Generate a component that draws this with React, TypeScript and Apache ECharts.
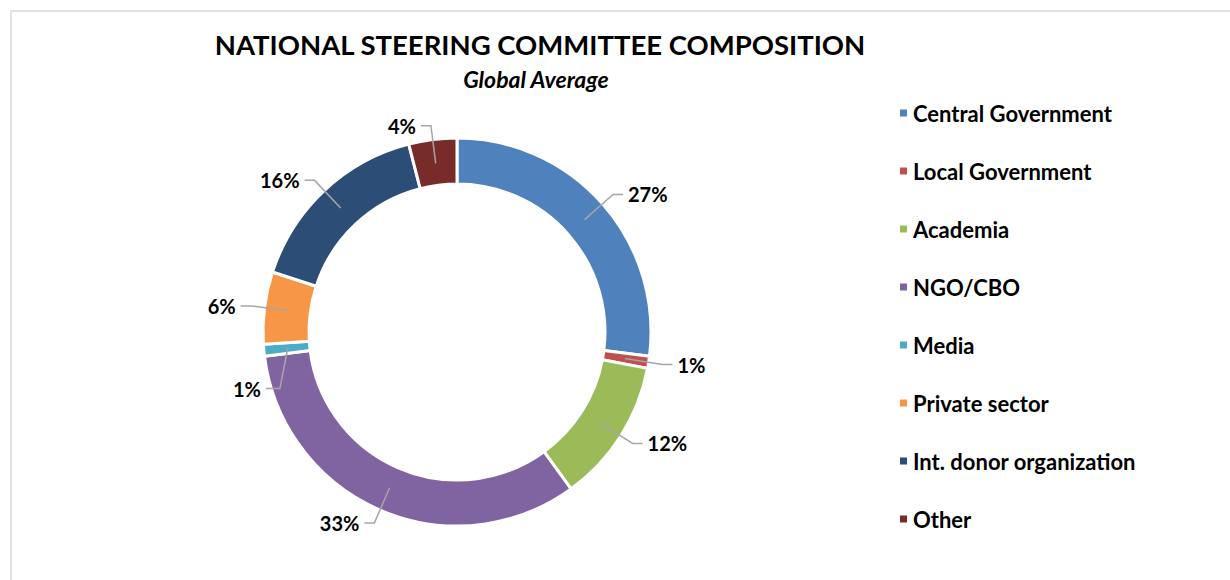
import React, { useEffect, useRef } from "react";
import * as echarts from "echarts";

const categories = [
  "Central Government",
  "Local Government",
  "Academia",
  "NGO/CBO",
  "Media",
  "Private sector",
  "Int. donor organization",
  "Other",
];
const values = [27, 1, 12, 33, 1, 6, 16, 4];
const colors = ["#4F81BD", "#C0504D", "#9BBB59", "#8064A2", "#4BACC6", "#F79646", "#2C4D75", "#772C2A"];

const FONT = "Lato";

export default function App() {
  const ref = useRef<HTMLDivElement>(null);
  useEffect(() => {
    const chart = echarts.init(ref.current!, null, { renderer: "svg" });
    const data = categories.map((name, i) => ({ name, value: values[i] }));
    chart.setOption({
      animation: false,
      backgroundColor: "#ffffff",
      color: colors,
      title: [
        {
          text: "NATIONAL STEERING COMMITTEE COMPOSITION",
          left: 535,
          textAlign: "center",
          top: 25,
          textStyle: { fontFamily: FONT, fontWeight: "bold", fontSize: 27.5, color: "#000" },
        },
        {
          text: "Global Average",
          left: 531,
          textAlign: "center",
          top: 62,
          textStyle: { fontFamily: FONT, fontWeight: "bold", fontStyle: "italic", fontSize: 23, color: "#000" },
        },
      ],
      legend: {
        orient: "vertical",
        left: 893,
        top: 97,
        itemWidth: 9,
        itemHeight: 9,
        itemGap: 36,
        icon: "rect",
        data: categories,
        textStyle: { fontFamily: FONT, fontWeight: "bold", fontSize: 22, color: "#000", lineHeight: 22 },
      },
      graphic: [
        {
          type: "rect",
          shape: { x: 11, y: 11, width: 1260, height: 620 },
          style: { fill: "none", stroke: "#d9d9d9", lineWidth: 1.5 },
          silent: true,
        },
      ],
      series: [
        {
          type: "pie",
          center: [457, 332],
          radius: [148, 194],
          startAngle: 90,
          clockwise: true,
          label: { show: false },
          labelLine: { show: false },
          itemStyle: { borderColor: "#fff", borderWidth: 3 },
          data,
          z: 1,
        },
        {
          type: "pie",
          center: [457, 332],
          radius: [169, 170],
          startAngle: 90,
          clockwise: true,
          silent: true,
          avoidLabelOverlap: false,
          itemStyle: { color: "rgba(0,0,0,0)", borderWidth: 0 },
          label: {
            show: true,
            formatter: "{c}%",
            fontFamily: FONT,
            fontWeight: "bold",
            fontSize: 20,
            color: "#000",
            distanceToLabelLine: 5,
          },
          labelLine: { show: true, length: 38, length2: 10, lineStyle: { color: "#A6A6A6", width: 1.5 } },
          labelLayout: (params: any) => {
            if (params.dataIndex !== 4) return {};
            const dx = 26;
            const dy = 37;
            const r = params.labelRect;
            const start = params.labelLinePoints ? params.labelLinePoints[0] : [r.x + r.width + 30, r.y];
            const endX = r.x + dx + r.width + 5;
            const endY = r.y + dy + r.height / 2;
            return {
              dx,
              dy,
              labelLinePoints: [start, [endX + 14, endY], [endX, endY]],
            };
          },
          data,
          z: 3,
        },
      ],
    });
    return () => chart.dispose();
  }, []);
  return <div ref={ref} style={{ position: "absolute", left: 0, top: 0, width: 1230, height: 580 }} />;
}
